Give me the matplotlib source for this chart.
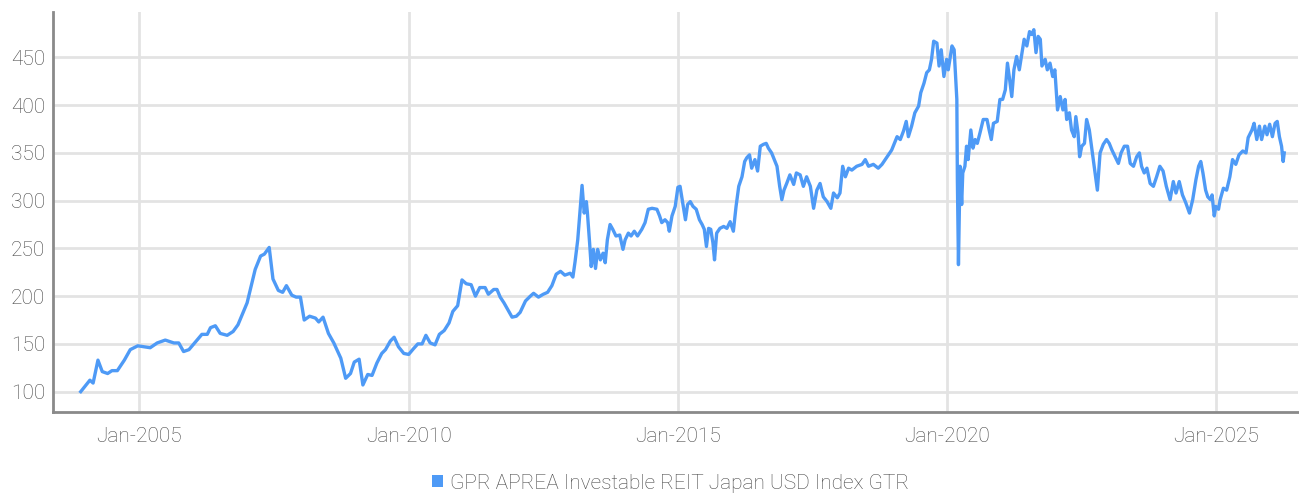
import matplotlib
matplotlib.use("Agg")
import matplotlib.pyplot as plt
from matplotlib.patches import Patch

plt.rcParams['font.family'] = ['Roboto', 'DejaVu Sans']

# decimal year -> index level
# monthly part, 2003-2012
years_monthly = [
    2003.91, 2004.08, 2004.14, 2004.23, 2004.31, 2004.41, 2004.49, 2004.59, 2004.72, 2004.83,
    2004.97, 2005.20, 2005.33, 2005.48, 2005.64, 2005.73, 2005.82, 2005.92, 2006.07, 2006.16,
    2006.26, 2006.32, 2006.41, 2006.50, 2006.63, 2006.74, 2006.83, 2007.00, 2007.15, 2007.25,
    2007.32, 2007.41, 2007.48, 2007.58, 2007.66, 2007.73, 2007.83, 2007.91, 2007.99, 2008.06,
    2008.16, 2008.27, 2008.33, 2008.41, 2008.51, 2008.61, 2008.74, 2008.83, 2008.92, 2008.99,
    2009.08, 2009.15, 2009.24, 2009.32, 2009.41, 2009.50, 2009.57, 2009.66, 2009.73, 2009.81,
    2009.91, 2010.00, 2010.09, 2010.17, 2010.25, 2010.32, 2010.40, 2010.49, 2010.57, 2010.66,
    2010.75, 2010.82, 2010.91, 2010.99, 2011.07, 2011.16, 2011.24, 2011.32, 2011.42, 2011.48,
    2011.58, 2011.64, 2011.70, 2011.77, 2011.84, 2011.92, 2012.00, 2012.07, 2012.17, 2012.26,
    2012.32, 2012.41, 2012.50, 2012.58, 2012.66, 2012.74,
]
values_monthly = [
    100, 112, 109, 133, 121, 119, 122, 122, 133, 144,
    148, 146, 151, 154, 151, 151, 142, 144, 154, 160,
    160, 167, 169, 161, 159, 163, 170, 193, 228, 242,
    244, 251, 218, 206, 204, 211, 201, 199, 199, 175,
    179, 177, 173, 178, 161, 151, 135, 114, 119, 131,
    134, 107, 118, 117, 130, 140, 144, 153, 157, 147,
    140, 139, 145, 150, 150, 159, 151, 149, 160, 164,
    172, 184, 190, 217, 213, 212, 200, 209, 209, 202,
    207, 207, 199, 193, 186, 178, 179, 183, 195, 200,
    203, 199, 202, 204, 211, 223,
]

# daily part, 2012-2026
years_daily = [
    2012.82, 2012.90, 2013.00, 2013.05, 2013.09, 2013.14, 2013.17, 2013.22, 2013.26, 2013.30,
    2013.32, 2013.36, 2013.39, 2013.43, 2013.47, 2013.51, 2013.56, 2013.61, 2013.65, 2013.69,
    2013.74, 2013.79, 2013.85, 2013.92, 2013.98, 2014.02, 2014.08, 2014.13, 2014.19, 2014.25,
    2014.33, 2014.39, 2014.45, 2014.52, 2014.61, 2014.66, 2014.70, 2014.76, 2014.81, 2014.84,
    2014.89, 2014.95, 2015.00, 2015.04, 2015.10, 2015.14, 2015.18, 2015.23, 2015.28, 2015.34,
    2015.40, 2015.45, 2015.49, 2015.53, 2015.57, 2015.61, 2015.65, 2015.68, 2015.72, 2015.78,
    2015.85, 2015.91, 2015.97, 2016.03, 2016.08, 2016.13, 2016.19, 2016.24, 2016.28, 2016.33,
    2016.37, 2016.43, 2016.48, 2016.53, 2016.59, 2016.64, 2016.68, 2016.74, 2016.79, 2016.84,
    2016.89, 2016.93, 2016.97, 2017.02, 2017.08, 2017.15, 2017.20, 2017.27, 2017.33, 2017.39,
    2017.46, 2017.52, 2017.58, 2017.64, 2017.70, 2017.77, 2017.84, 2017.89, 2017.96, 2018.01,
    2018.06, 2018.11, 2018.17, 2018.23, 2018.32, 2018.42, 2018.48, 2018.54, 2018.63, 2018.72,
    2018.79, 2018.85, 2018.91, 2018.97, 2019.02, 2019.07, 2019.13, 2019.19, 2019.24, 2019.28,
    2019.34, 2019.40, 2019.47, 2019.51, 2019.57, 2019.62, 2019.67, 2019.71, 2019.75, 2019.81,
    2019.85, 2019.89, 2019.94, 2019.99, 2020.02, 2020.09, 2020.13, 2020.16, 2020.18, 2020.19,
    2020.21, 2020.24, 2020.27, 2020.29, 2020.33, 2020.36, 2020.39, 2020.44, 2020.48, 2020.52,
    2020.56, 2020.61, 2020.67, 2020.74, 2020.78, 2020.82, 2020.86, 2020.93, 2020.98, 2021.03,
    2021.08, 2021.12, 2021.16, 2021.20, 2021.24, 2021.29, 2021.34, 2021.39, 2021.43, 2021.48,
    2021.53, 2021.57, 2021.61, 2021.65, 2021.69, 2021.73, 2021.76, 2021.82, 2021.86, 2021.91,
    2021.96, 2022.00, 2022.05, 2022.10, 2022.15, 2022.19, 2022.22, 2022.27, 2022.31, 2022.36,
    2022.39, 2022.43, 2022.46, 2022.50, 2022.55, 2022.59, 2022.64, 2022.68, 2022.73, 2022.79,
    2022.84, 2022.90, 2022.96, 2023.01, 2023.06, 2023.12, 2023.18, 2023.23, 2023.29, 2023.35,
    2023.40, 2023.46, 2023.52, 2023.57, 2023.61, 2023.66, 2023.71, 2023.77, 2023.83, 2023.89,
    2023.95, 2024.01, 2024.07, 2024.14, 2024.20, 2024.25, 2024.31, 2024.37, 2024.43, 2024.50,
    2024.56, 2024.62, 2024.67, 2024.71, 2024.75, 2024.80, 2024.84, 2024.89, 2024.92, 2024.96,
    2024.99, 2025.04, 2025.07, 2025.13, 2025.19, 2025.25, 2025.30, 2025.36, 2025.42, 2025.49,
    2025.55, 2025.59, 2025.66, 2025.70, 2025.75, 2025.80, 2025.84, 2025.90, 2025.94, 2025.99,
    2026.04, 2026.09, 2026.13, 2026.17, 2026.21, 2026.24, 2026.26,
]
values_daily = [
    226, 222, 224, 220, 236, 259, 280, 316, 287, 299,
    287, 256, 231, 249, 229, 249, 238, 245, 235, 259,
    275, 270, 263, 264, 249, 259, 266, 263, 268, 263,
    270, 277, 291, 292, 291, 284, 277, 280, 277, 268,
    284, 294, 314, 315, 294, 280, 296, 299, 294, 291,
    280, 275, 270, 252, 271, 270, 256, 238, 266, 271,
    273, 271, 278, 268, 294, 315, 325, 341, 345, 348,
    334, 343, 331, 357, 359, 360, 355, 350, 343, 336,
    315, 301, 311, 318, 327, 317, 329, 327, 315, 325,
    315, 292, 311, 318, 304, 299, 292, 308, 303, 308,
    336, 325, 334, 332, 336, 338, 343, 336, 338, 334,
    338, 343, 348, 353, 360, 367, 364, 373, 383, 367,
    378, 392, 399, 413, 423, 434, 437, 448, 467, 465,
    441, 458, 430, 448, 437, 462, 458, 427, 406, 322,
    233, 336, 296, 329, 336, 357, 343, 374, 355, 364,
    360, 371, 385, 385, 374, 364, 381, 383, 406, 406,
    416, 444, 427, 409, 437, 451, 437, 455, 469, 462,
    477, 474, 479, 455, 472, 469, 441, 448, 437, 444,
    430, 437, 395, 409, 395, 406, 385, 392, 374, 367,
    388, 371, 346, 357, 360, 385, 374, 357, 336, 311,
    350, 359, 364, 360, 353, 346, 339, 350, 357, 357,
    339, 336, 346, 350, 336, 329, 334, 318, 315, 325,
    336, 331, 315, 301, 320, 308, 320, 306, 298, 287,
    301, 322, 336, 341, 329, 311, 304, 301, 306, 284,
    294, 291, 301, 313, 311, 325, 343, 338, 348, 352,
    350, 366, 374, 381, 364, 378, 364, 378, 369, 380,
    367, 381, 383, 367, 357, 341, 350,
]

years = years_monthly + years_daily
values = values_monthly + values_daily

tick_years = [2005, 2010, 2015, 2020, 2025]
tick_labels = ["Jan-2005", "Jan-2010", "Jan-2015", "Jan-2020", "Jan-2025"]
y_ticks = [100, 150, 200, 250, 300, 350, 400, 450]
series_name = "GPR APREA Investable REIT Japan USD Index GTR"

line_color = "#4e9af6"
text_color = "#464646"

fig = plt.figure(figsize=(12.99, 4.94), dpi=100)
ax = fig.add_axes([0.041, 0.166, 0.958, 0.810])

ax.plot(years, values, color=line_color, lw=2.4, zorder=3, solid_joinstyle="round")

ax.set_xlim(2003.40, 2026.51)
ax.set_ylim(78.7, 497.7)
ax.set_xticks(tick_years)
ax.set_xticklabels(tick_labels)
ax.set_yticks(y_ticks)

ax.grid(True, color="#e3e3e3", lw=2.0, zorder=0)
ax.set_axisbelow(True)
for side in ["top", "right"]:
    ax.spines[side].set_visible(False)
for side in ["left", "bottom"]:
    ax.spines[side].set_color("#8a8a8a")
    ax.spines[side].set_linewidth(2.0)
ax.tick_params(length=0, labelsize=15, labelcolor=text_color)
ax.tick_params(axis="x", pad=11)
ax.tick_params(axis="y", pad=6)
for lab in ax.get_xticklabels() + ax.get_yticklabels():
    lab.set_fontweight("light")

handle = Patch(facecolor=line_color, edgecolor="none")
leg = fig.legend([handle], [series_name], loc="lower center", bbox_to_anchor=(0.516, -0.035),
                 frameon=False, fontsize=15, labelcolor=text_color,
                 handlelength=0.55, handleheight=0.55, handletextpad=0.3)
for t in leg.get_texts():
    t.set_fontweight("light")

fig.savefig("out.png", dpi=100)
